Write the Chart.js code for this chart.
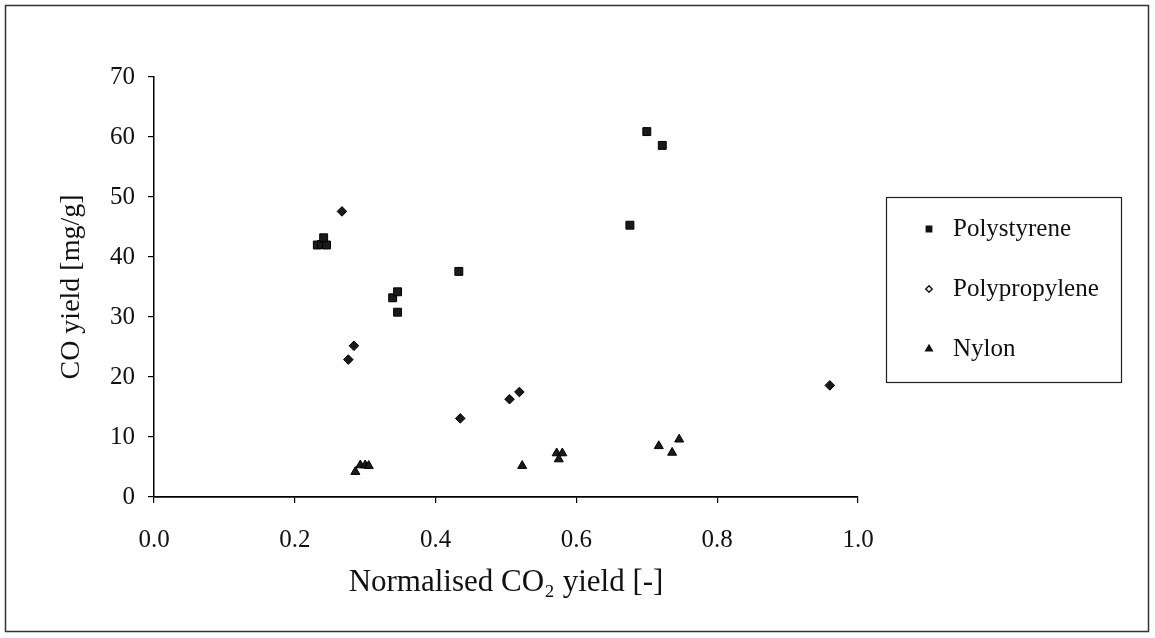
<!DOCTYPE html>
<html>
<head>
<meta charset="utf-8">
<script src="https://cdn.jsdelivr.net/npm/chart.js@4.4.1/dist/chart.umd.min.js"></script>
<style>
  html, body { margin: 0; padding: 0; background: #fff; }
  #wrap { width: 1155px; height: 638px; }
</style>
</head>
<body>
<div id="wrap"><canvas id="c" width="1155" height="638"></canvas></div>
<script>
// ---- data ----
const polystyreneX = [0.232, 0.238, 0.245, 0.241, 0.339, 0.346, 0.346, 0.433, 0.676, 0.700, 0.722];
const polystyreneY = [42.0, 42.1, 42.0, 43.2, 33.2, 34.2, 30.8, 37.6, 45.3, 60.9, 58.6];

const polypropyleneX = [0.267, 0.276, 0.284, 0.435, 0.505, 0.519, 0.960];
const polypropyleneY = [47.6, 22.9, 25.2, 13.1, 16.3, 17.5, 18.6];

const nylonX = [0.286, 0.293, 0.300, 0.305, 0.523, 0.572, 0.580, 0.575, 0.717, 0.736, 0.746];
const nylonY = [4.2, 5.3, 5.3, 5.2, 5.2, 7.3, 7.3, 6.3, 8.5, 7.4, 9.6];

const seriesNames = ['Polystyrene', 'Polypropylene', 'Nylon'];
const xTitle = 'Normalised CO\u2082 yield [-]';
const yTitle = 'CO yield [mg/g]';

const toPoints = (xs, ys) => xs.map((x, i) => ({ x: x, y: ys[i] }));

const SERIF = '"Liberation Serif", "DejaVu Serif", serif';
const INK = '#111';

const outerFrame = {
  id: 'outerFrame',
  beforeDraw(chart) {
    const ctx = chart.ctx;
    ctx.save();
    ctx.fillStyle = '#fff';
    ctx.fillRect(0, 0, chart.width, chart.height);
    ctx.strokeStyle = '#333';
    ctx.lineWidth = 1.5;
    ctx.strokeRect(5.5, 5.5, 1143, 626);
    ctx.restore();
  }
};

const customLegend = {
  id: 'customLegend',
  afterDraw(chart) {
    const ctx = chart.ctx;
    const box = { x: 886, y: 197, w: 235, h: 185 };
    ctx.save();
    ctx.strokeStyle = '#222';
    ctx.lineWidth = 1.2;
    ctx.strokeRect(box.x + 0.5, box.y + 0.5, box.w, box.h);
    const rowY = [229, 289, 349];
    const legendStyle = [
      { pointStyle: 'rect', radius: 3.8, fill: INK },
      { pointStyle: 'rectRot', radius: 3.2, fill: '#fff' },
      { pointStyle: 'triangle', radius: 3.8, fill: INK }
    ];
    chart.data.datasets.forEach((ds, i) => {
      const st = legendStyle[i];
      ctx.fillStyle = st.fill;
      ctx.strokeStyle = INK;
      ctx.lineWidth = 1.4;
      Chart.helpers.drawPoint(ctx, { pointStyle: st.pointStyle, radius: st.radius, rotation: 0, borderWidth: 1.4 }, 929, rowY[i]);
      ctx.fillStyle = INK;
      ctx.font = '25px ' + SERIF;
      ctx.textBaseline = 'middle';
      ctx.textAlign = 'left';
      ctx.fillText(ds.label, 953, rowY[i]);
    });
    ctx.restore();
  }
};

new Chart(document.getElementById('c'), {
  type: 'scatter',
  data: {
    datasets: [
      {
        label: seriesNames[0],
        data: toPoints(polystyreneX, polystyreneY),
        pointStyle: 'rect',
        pointRadius: 5.6,
        backgroundColor: '#1a1a1a',
        borderColor: '#000',
        borderWidth: 1
      },
      {
        label: seriesNames[1],
        data: toPoints(polypropyleneX, polypropyleneY),
        pointStyle: 'rectRot',
        pointRadius: 4.8,
        backgroundColor: '#1a1a1a',
        borderColor: '#000',
        borderWidth: 1
      },
      {
        label: seriesNames[2],
        data: toPoints(nylonX, nylonY),
        pointStyle: 'triangle',
        pointRadius: 5.2,
        backgroundColor: '#1a1a1a',
        borderColor: '#000',
        borderWidth: 1
      }
    ]
  },
  options: {
    responsive: false,
    animation: false,
    devicePixelRatio: 1,
    layout: { padding: { left: 0, top: 77, right: 297, bottom: 0 } },
    plugins: {
      legend: { display: false },
      tooltip: { enabled: false }
    },
    scales: {
      x: {
        type: 'linear',
        min: 0,
        max: 1,
        afterFit(scale) { scale.height = 141; },
        ticks: {
          stepSize: 0.2,
          callback: (v) => Number(v).toFixed(1),
          color: INK,
          font: { family: SERIF, size: 25 },
          padding: 22,
          maxRotation: 0
        },
        grid: { drawOnChartArea: false, drawTicks: true, tickLength: 6, color: '#000', lineWidth: 1.2 },
        border: { display: true, color: '#000', width: 1.8 },
        title: {
          display: true,
          text: xTitle,
          color: INK,
          font: { family: SERIF, size: 31 },
          padding: { top: 0, bottom: 37 }
        }
      },
      y: {
        type: 'linear',
        min: 0,
        max: 70,
        afterFit(scale) { scale.width = 154; },
        ticks: {
          stepSize: 10,
          color: INK,
          font: { family: SERIF, size: 25 },
          padding: 13
        },
        grid: { drawOnChartArea: false, drawTicks: true, tickLength: 6, color: '#000', lineWidth: 1.2 },
        border: { display: true, color: '#000', width: 1.5 },
        title: {
          display: true,
          text: yTitle,
          color: INK,
          font: { family: SERIF, size: 28 },
          padding: { top: 55, bottom: 0 }
        }
      }
    }
  },
  plugins: [outerFrame, customLegend]
});
</script>
</body>
</html>
